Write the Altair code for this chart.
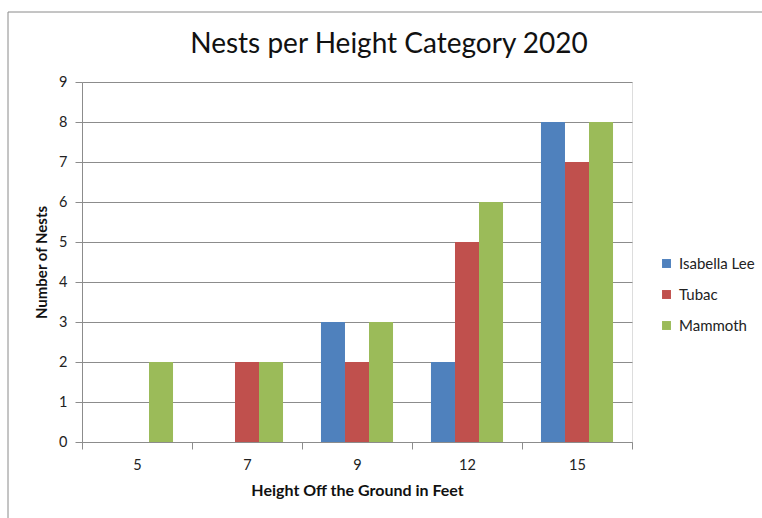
import altair as alt
import pandas as pd

heights = ["5", "7", "9", "12", "15"]
series = ["Isabella Lee", "Tubac", "Mammoth"]
isabella = [0, 0, 3, 2, 8]
tubac = [0, 2, 2, 5, 7]
mammoth = [2, 2, 3, 6, 8]
colors = ["#4F81BD", "#C0504D", "#9BBB59"]
title_text = "Nests per Height Category 2020"

rows = []
for name, vals in zip(series, [isabella, tubac, mammoth]):
    for h, v in zip(heights, vals):
        rows.append({"height": h, "series": name, "nests": v})
df = pd.DataFrame(rows)

FONT = "Lato"
GRID = "#8c8c8c"

bars = alt.Chart(df).mark_bar().encode(
    x=alt.X("height:N", sort=heights,
            scale=alt.Scale(paddingInner=0, paddingOuter=0),
            axis=alt.Axis(title="Height Off the Ground in Feet", labelAngle=0,
                          tickBand="extent", tickSize=7, labelPadding=9,
                          titlePadding=11, labelFontSize=14.5, titleFontSize=16,
                          titleFontWeight="bold", domainColor=GRID, tickColor=GRID,
                          labelColor="#222", titleColor="#111", labelFont=FONT,
                          titleFont=FONT)),
    xOffset=alt.XOffset("series:N", sort=series,
                        scale=alt.Scale(paddingInner=0, paddingOuter=0.79)),
    y=alt.Y("nests:Q", scale=alt.Scale(domain=[0, 9], nice=False),
            axis=alt.Axis(title="Number of Nests", values=list(range(10)),
                          grid=True, gridColor=GRID, tickSize=7, labelPadding=8,
                          titlePadding=9, labelFontSize=14.5, titleFontSize=15,
                          titleFontWeight="bold", domainColor=GRID, tickColor=GRID,
                          labelColor="#222", titleColor="#111", labelFont=FONT,
                          titleFont=FONT)),
    color=alt.Color("series:N", sort=series,
                    scale=alt.Scale(domain=series, range=colors),
                    legend=alt.Legend(title=None, orient="none", legendX=577,
                                      legendY=174, symbolType="square",
                                      symbolSize=80, labelFontSize=15,
                                      labelFont=FONT, rowPadding=15, labelOffset=5,
                                      labelColor="#222", symbolStrokeWidth=0)),
)

single = alt.Data(values=[{}])
frame_top = alt.Chart(single).mark_rule(color="#8a8a8a", strokeWidth=1).encode(
    x=alt.value(-74), x2=alt.value(680), y=alt.value(-70))
frame_left = alt.Chart(single).mark_rule(color="#8a8a8a", strokeWidth=1).encode(
    x=alt.value(-74), y=alt.value(-70), y2=alt.value(436))
title = alt.Chart(single).mark_text(
    font=FONT, fontSize=28, color="#111", align="center", baseline="alphabetic"
).encode(x=alt.value(307), y=alt.value(-29), text=alt.value(title_text))

chart = alt.layer(bars, frame_top, frame_left, title).properties(
    width=550, height=360,
    autosize=alt.AutoSizeParams(type="none"),
    padding={"left": 82, "top": 82, "right": 130, "bottom": 76},
).configure_view(stroke=None).configure(background="white")

chart.save("out.html", embed_options={"renderer": "svg", "actions": False})
